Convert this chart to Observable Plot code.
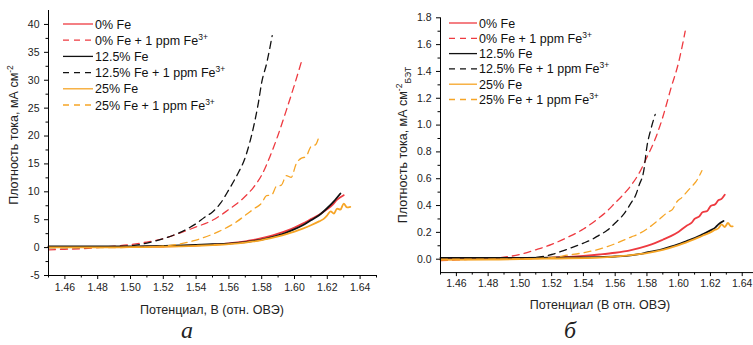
<!DOCTYPE html>
<html>
<head>
<meta charset="utf-8">
<script src="https://cdn.jsdelivr.net/npm/d3@7"></script>
<script src="https://cdn.jsdelivr.net/npm/@observablehq/plot@0.6"></script>
<style>
  html, body { margin: 0; padding: 0; background: #fff; }
  #wrap { position: relative; width: 753px; height: 345px; overflow: hidden; font-family: "Liberation Sans", Arial, sans-serif; }
  #wrap svg { position: absolute; top: 0; overflow: visible; }
</style>
</head>
<body>
<div id="wrap"></div>
<script>
// ---------- labels ----------
const legendLabels = ["0% Fe", "0% Fe + 1 ppm Fe", "12.5% Fe", "12.5% Fe + 1 ppm Fe", "25% Fe", "25% Fe + 1 ppm Fe"];
const legendSup = ["", "3+", "", "3+", "", "3+"];
const xTitleA = "Потенциал, В (отн. ОВЭ)";
const xTitleB = "Потенциал (В отн. ОВЭ)";
const yTitleMain = "Плотность тока, мА см";
const yTitleSup = "-2";
const yTitleSubB = "БЭТ";
const captionA = "а";
const captionB = "б";

// ---------- tick values ----------
const xTicksMajor = [1.46, 1.48, 1.50, 1.52, 1.54, 1.56, 1.58, 1.60, 1.62, 1.64];
const xTicksMinor = [1.45, 1.47, 1.49, 1.51, 1.53, 1.55, 1.57, 1.59, 1.61, 1.63, 1.65];
const yTicksA = [-5, 0, 5, 10, 15, 20, 25, 30, 35, 40];
const yMinorA = [-2.5, 2.5, 7.5, 12.5, 17.5, 22.5, 27.5, 32.5, 37.5];
const yTicksB = [0, 0.2, 0.4, 0.6, 0.8, 1.0, 1.2, 1.4, 1.6, 1.8];
const yMinorB = [0.1, 0.3, 0.5, 0.7, 0.9, 1.1, 1.3, 1.5, 1.7];

// ---------- panel а (mA cm^-2) ----------
const xA_0 = [1.45,1.46,1.47,1.48,1.49,1.50,1.51,1.52,1.53,1.54,1.55,1.56,1.565,1.57,1.575,1.58,1.585,1.59,1.595,1.60,1.605,1.61,1.615,1.62,1.623,1.626,1.63];
const yA_0 = [0.1,0.1,0.1,0.1,0.1,0.12,0.15,0.2,0.28,0.38,0.52,0.75,0.92,1.12,1.38,1.68,2.05,2.5,3.0,3.6,4.3,5.1,5.9,6.9,7.6,8.6,9.4];
const xA_0f = [1.45,1.46,1.47,1.48,1.49,1.50,1.51,1.52,1.53,1.54,1.55,1.555,1.56,1.565,1.57,1.575,1.58,1.585,1.59,1.595,1.60,1.6047];
const yA_0f = [-0.4,-0.3,-0.2,0.0,0.25,0.55,1.0,1.6,2.6,3.7,4.9,5.8,6.85,7.9,9.2,10.8,13.0,16.3,20.2,24.6,29.2,33.8];
const xA_12 = [1.45,1.46,1.47,1.48,1.49,1.50,1.51,1.52,1.53,1.54,1.55,1.56,1.565,1.57,1.575,1.58,1.585,1.59,1.595,1.60,1.605,1.61,1.615,1.62,1.624,1.628];
const yA_12 = [0.2,0.2,0.2,0.2,0.2,0.22,0.25,0.3,0.38,0.48,0.6,0.72,0.85,0.98,1.2,1.45,1.8,2.2,2.7,3.3,4.0,4.9,5.8,7.1,8.3,9.7];
const xA_12f = [1.45,1.46,1.47,1.48,1.49,1.50,1.51,1.52,1.53,1.54,1.545,1.55,1.555,1.56,1.565,1.57,1.575,1.578,1.58,1.583,1.5864];
const yA_12f = [0.0,0.0,0.0,0.05,0.12,0.3,0.8,1.6,2.7,4.3,5.4,6.4,8.0,10.4,13.0,16.2,21.6,26.0,29.6,33.0,38.0];
const xA_25 = [1.45,1.46,1.47,1.48,1.49,1.50,1.51,1.52,1.53,1.54,1.55,1.56,1.57,1.575,1.58,1.585,1.59,1.595,1.60,1.605,1.61,1.615,1.618,1.62,1.622,1.624,1.626,1.628,1.63,1.632,1.634];
const yA_25 = [0.05,0.05,0.05,0.05,0.05,0.07,0.1,0.15,0.22,0.32,0.45,0.62,0.9,1.1,1.35,1.65,2.0,2.4,2.85,3.4,4.0,4.7,5.2,5.8,6.5,6.1,7.0,6.8,7.9,7.2,7.3];
const xA_25f = [1.45,1.47,1.49,1.50,1.51,1.52,1.53,1.54,1.55,1.56,1.565,1.57,1.575,1.58,1.583,1.586,1.589,1.592,1.595,1.598,1.601,1.604,1.607,1.61,1.613,1.6148];
const yA_25f = [0.0,0.0,0.0,0.05,0.1,0.25,0.65,1.35,2.4,3.8,4.7,5.8,6.9,8.0,9.3,9.4,11.0,11.2,12.9,12.6,15.0,16.0,16.3,18.1,18.5,19.8];

// ---------- panel б (mA cm^-2 BET) ----------
const xB_0 = [1.45,1.47,1.49,1.50,1.52,1.54,1.55,1.56,1.57,1.58,1.585,1.59,1.595,1.60,1.605,1.608,1.61,1.613,1.615,1.618,1.62,1.623,1.625,1.627,1.629];
const yB_0 = [0.0,0.0,0.003,0.005,0.012,0.025,0.035,0.048,0.068,0.10,0.12,0.145,0.172,0.205,0.25,0.27,0.3,0.32,0.35,0.36,0.395,0.41,0.44,0.45,0.48];
const xB_0f = [1.45,1.46,1.47,1.48,1.49,1.50,1.51,1.52,1.53,1.54,1.55,1.555,1.56,1.565,1.57,1.575,1.58,1.585,1.59,1.595,1.60,1.6041];
const yB_0f = [-0.01,-0.005,0.0,0.005,0.015,0.035,0.07,0.11,0.163,0.225,0.31,0.36,0.42,0.48,0.55,0.64,0.76,0.89,1.06,1.27,1.47,1.70];
const xB_12 = [1.45,1.48,1.50,1.52,1.54,1.55,1.56,1.567,1.575,1.58,1.585,1.59,1.595,1.60,1.605,1.61,1.615,1.62,1.623,1.625,1.6282];
const yB_12 = [0.01,0.01,0.01,0.012,0.014,0.016,0.02,0.025,0.038,0.05,0.062,0.076,0.093,0.113,0.135,0.157,0.185,0.215,0.235,0.26,0.285];
const xB_12f = [1.45,1.47,1.49,1.50,1.51,1.52,1.53,1.54,1.545,1.55,1.555,1.56,1.565,1.57,1.573,1.575,1.578,1.58,1.5825,1.5852];
const yB_12f = [0.01,0.01,0.01,0.01,0.013,0.035,0.075,0.12,0.145,0.18,0.215,0.27,0.33,0.42,0.48,0.55,0.66,0.84,0.97,1.08];
const xB_25 = [1.45,1.48,1.50,1.52,1.55,1.57,1.58,1.59,1.60,1.61,1.615,1.62,1.623,1.625,1.627,1.629,1.631,1.633,1.634];
const yB_25 = [-0.005,-0.003,0.0,0.005,0.012,0.03,0.045,0.07,0.105,0.15,0.175,0.2,0.22,0.23,0.26,0.24,0.27,0.245,0.245];
const xB_25f = [1.45,1.48,1.51,1.52,1.53,1.54,1.55,1.56,1.57,1.575,1.58,1.585,1.59,1.593,1.596,1.599,1.602,1.605,1.608,1.611,1.6146];
const yB_25f = [0.0,0.0,0.005,0.012,0.03,0.048,0.075,0.115,0.165,0.19,0.225,0.27,0.32,0.35,0.37,0.43,0.46,0.5,0.54,0.58,0.66];

// ---------- styling (not data) ----------
const RED = "#ee3a40", BLACK = "#111111", ORANGE = "#f6a526";
const styles = [
  {color: RED, dashed: false}, {color: RED, dashed: true},
  {color: BLACK, dashed: false}, {color: BLACK, dashed: true},
  {color: ORANGE, dashed: false}, {color: ORANGE, dashed: true}
];
const DASH = "7,5";

function rows(xs, ys) { return xs.map((x, i) => ({x, y: ys[i]})); }

function panel(o) {
  const marks = [];
  o.series.forEach((s, i) => {
    const st = styles[i];
    marks.push(Plot.line(rows(s[0], s[1]), {
      x: "x", y: "y", stroke: st.color,
      strokeWidth: st.dashed ? 1.3 : 1.8,
      strokeDasharray: st.dashed ? DASH : null,
      curve: "monotone-x"
    }));
  });
  marks.push(Plot.ruleX([o.xDomain[0]], {stroke: "#000", strokeWidth: 1}));
  marks.push(Plot.ruleY([o.yDomain[0]], {stroke: "#000", strokeWidth: 1}));
  marks.push(Plot.axisX(xTicksMajor, {anchor: "bottom", tickSize: 4, tickPadding: o.xPad, tickFormat: d => d.toFixed(2), label: null, fill: "#222"}));
  marks.push(Plot.axisX(xTicksMinor, {anchor: "bottom", tickSize: 2.5, tickFormat: () => "", label: null}));
  marks.push(Plot.axisY(o.yTicks, {anchor: "left", tickSize: 4, tickPadding: 5, tickFormat: o.yFmt, label: null, fill: "#222"}));
  marks.push(Plot.axisY(o.yMinor, {anchor: "left", tickSize: 2.5, tickFormat: () => "", label: null}));
  const svg = Plot.plot({
    width: 380, height: 345,
    marginLeft: o.ml, marginRight: o.mr, marginTop: o.mt, marginBottom: o.mb,
    x: {domain: o.xDomain},
    y: {domain: o.yDomain},
    style: {fontFamily: "'Liberation Sans', Arial, sans-serif", fontSize: "10.5px", color: "#000", background: "transparent"},
    marks
  });
  const g = d3.select(svg);
  // legend
  const lg = g.append("g").attr("font-size", "12.5px").attr("fill", "#111").attr("text-anchor", "start");
  legendLabels.forEach((lab, i) => {
    const st = styles[i];
    const y = o.leg.y0 + i * o.leg.dy;
    lg.append("line").attr("x1", o.leg.x1).attr("x2", o.leg.x2).attr("y1", y).attr("y2", y)
      .attr("stroke", st.color).attr("stroke-width", 1.3)
      .attr("stroke-dasharray", st.dashed ? "6,5" : null);
    const t = lg.append("text").attr("x", o.leg.tx).attr("y", y + 4.5).attr("text-anchor", "start").text(lab);
    if (legendSup[i]) t.append("tspan").attr("dy", -5).attr("font-size", "8.5px").text(legendSup[i]);
  });
  // x title
  g.append("text").attr("x", o.xt[0]).attr("y", o.xt[1]).attr("text-anchor", "middle")
    .attr("font-size", "12.5px").attr("fill", "#222").text(o.xTitle);
  // y title
  const yt = g.append("text").attr("transform", `translate(${o.yt[0]},${o.yt[1]}) rotate(-90)`)
    .attr("text-anchor", "middle").attr("font-size", "12.5px").attr("fill", "#222");
  yt.append("tspan").text(yTitleMain);
  yt.append("tspan").attr("dy", "-5").attr("font-size", "8.5px").text(yTitleSup);
  if (o.ySub) yt.append("tspan").attr("dy", "9").attr("font-size", "8.5px").text(o.ySub);
  // caption
  g.append("text").attr("x", o.cap[0]).attr("y", o.cap[1]).attr("text-anchor", "middle")
    .attr("font-family", "'Liberation Serif', 'DejaVu Serif', serif").attr("font-style", "italic")
    .attr("font-size", "24px").attr("fill", "#222").text(o.caption);
  return svg;
}

const wrap = document.getElementById("wrap");

const svgA = panel({
  series: [[xA_0, yA_0], [xA_0f, yA_0f], [xA_12, yA_12], [xA_12f, yA_12f], [xA_25, yA_25], [xA_25f, yA_25f]],
  xDomain: [1.45, 1.65], yDomain: [-5, 42.5],
  yTicks: yTicksA, yMinor: yMinorA, yFmt: d => String(d),
  ml: 48, mr: 4, mt: 10, mb: 70, xPad: 4,
  leg: {y0: 24, dy: 16.2, x1: 63, x2: 93, tx: 95},
  xt: [212, 314], xTitle: xTitleA,
  yt: [17.5, 135], ySub: null,
  cap: [187, 338], caption: captionA
});
svgA.style.left = "0px";
wrap.appendChild(svgA);

const svgB = panel({
  series: [[xB_0, yB_0], [xB_0f, yB_0f], [xB_12, yB_12], [xB_12f, yB_12f], [xB_25, yB_25], [xB_25f, yB_25f]],
  xDomain: [1.45, 1.65], yDomain: [-0.1, 1.8],
  yTicks: yTicksB, yMinor: yMinorB, yFmt: d => d.toFixed(1),
  ml: 60, mr: 2.4, mt: 17.3, mb: 72.9, xPad: 3,
  leg: {y0: 23, dy: 15.3, x1: 69, x2: 97, tx: 99},
  xt: [220, 309], xTitle: xTitleB,
  yt: [27, 145], ySub: yTitleSubB,
  cap: [190, 338], caption: captionB
});
svgB.style.left = "380px";
wrap.appendChild(svgB);
</script>
</body>
</html>
